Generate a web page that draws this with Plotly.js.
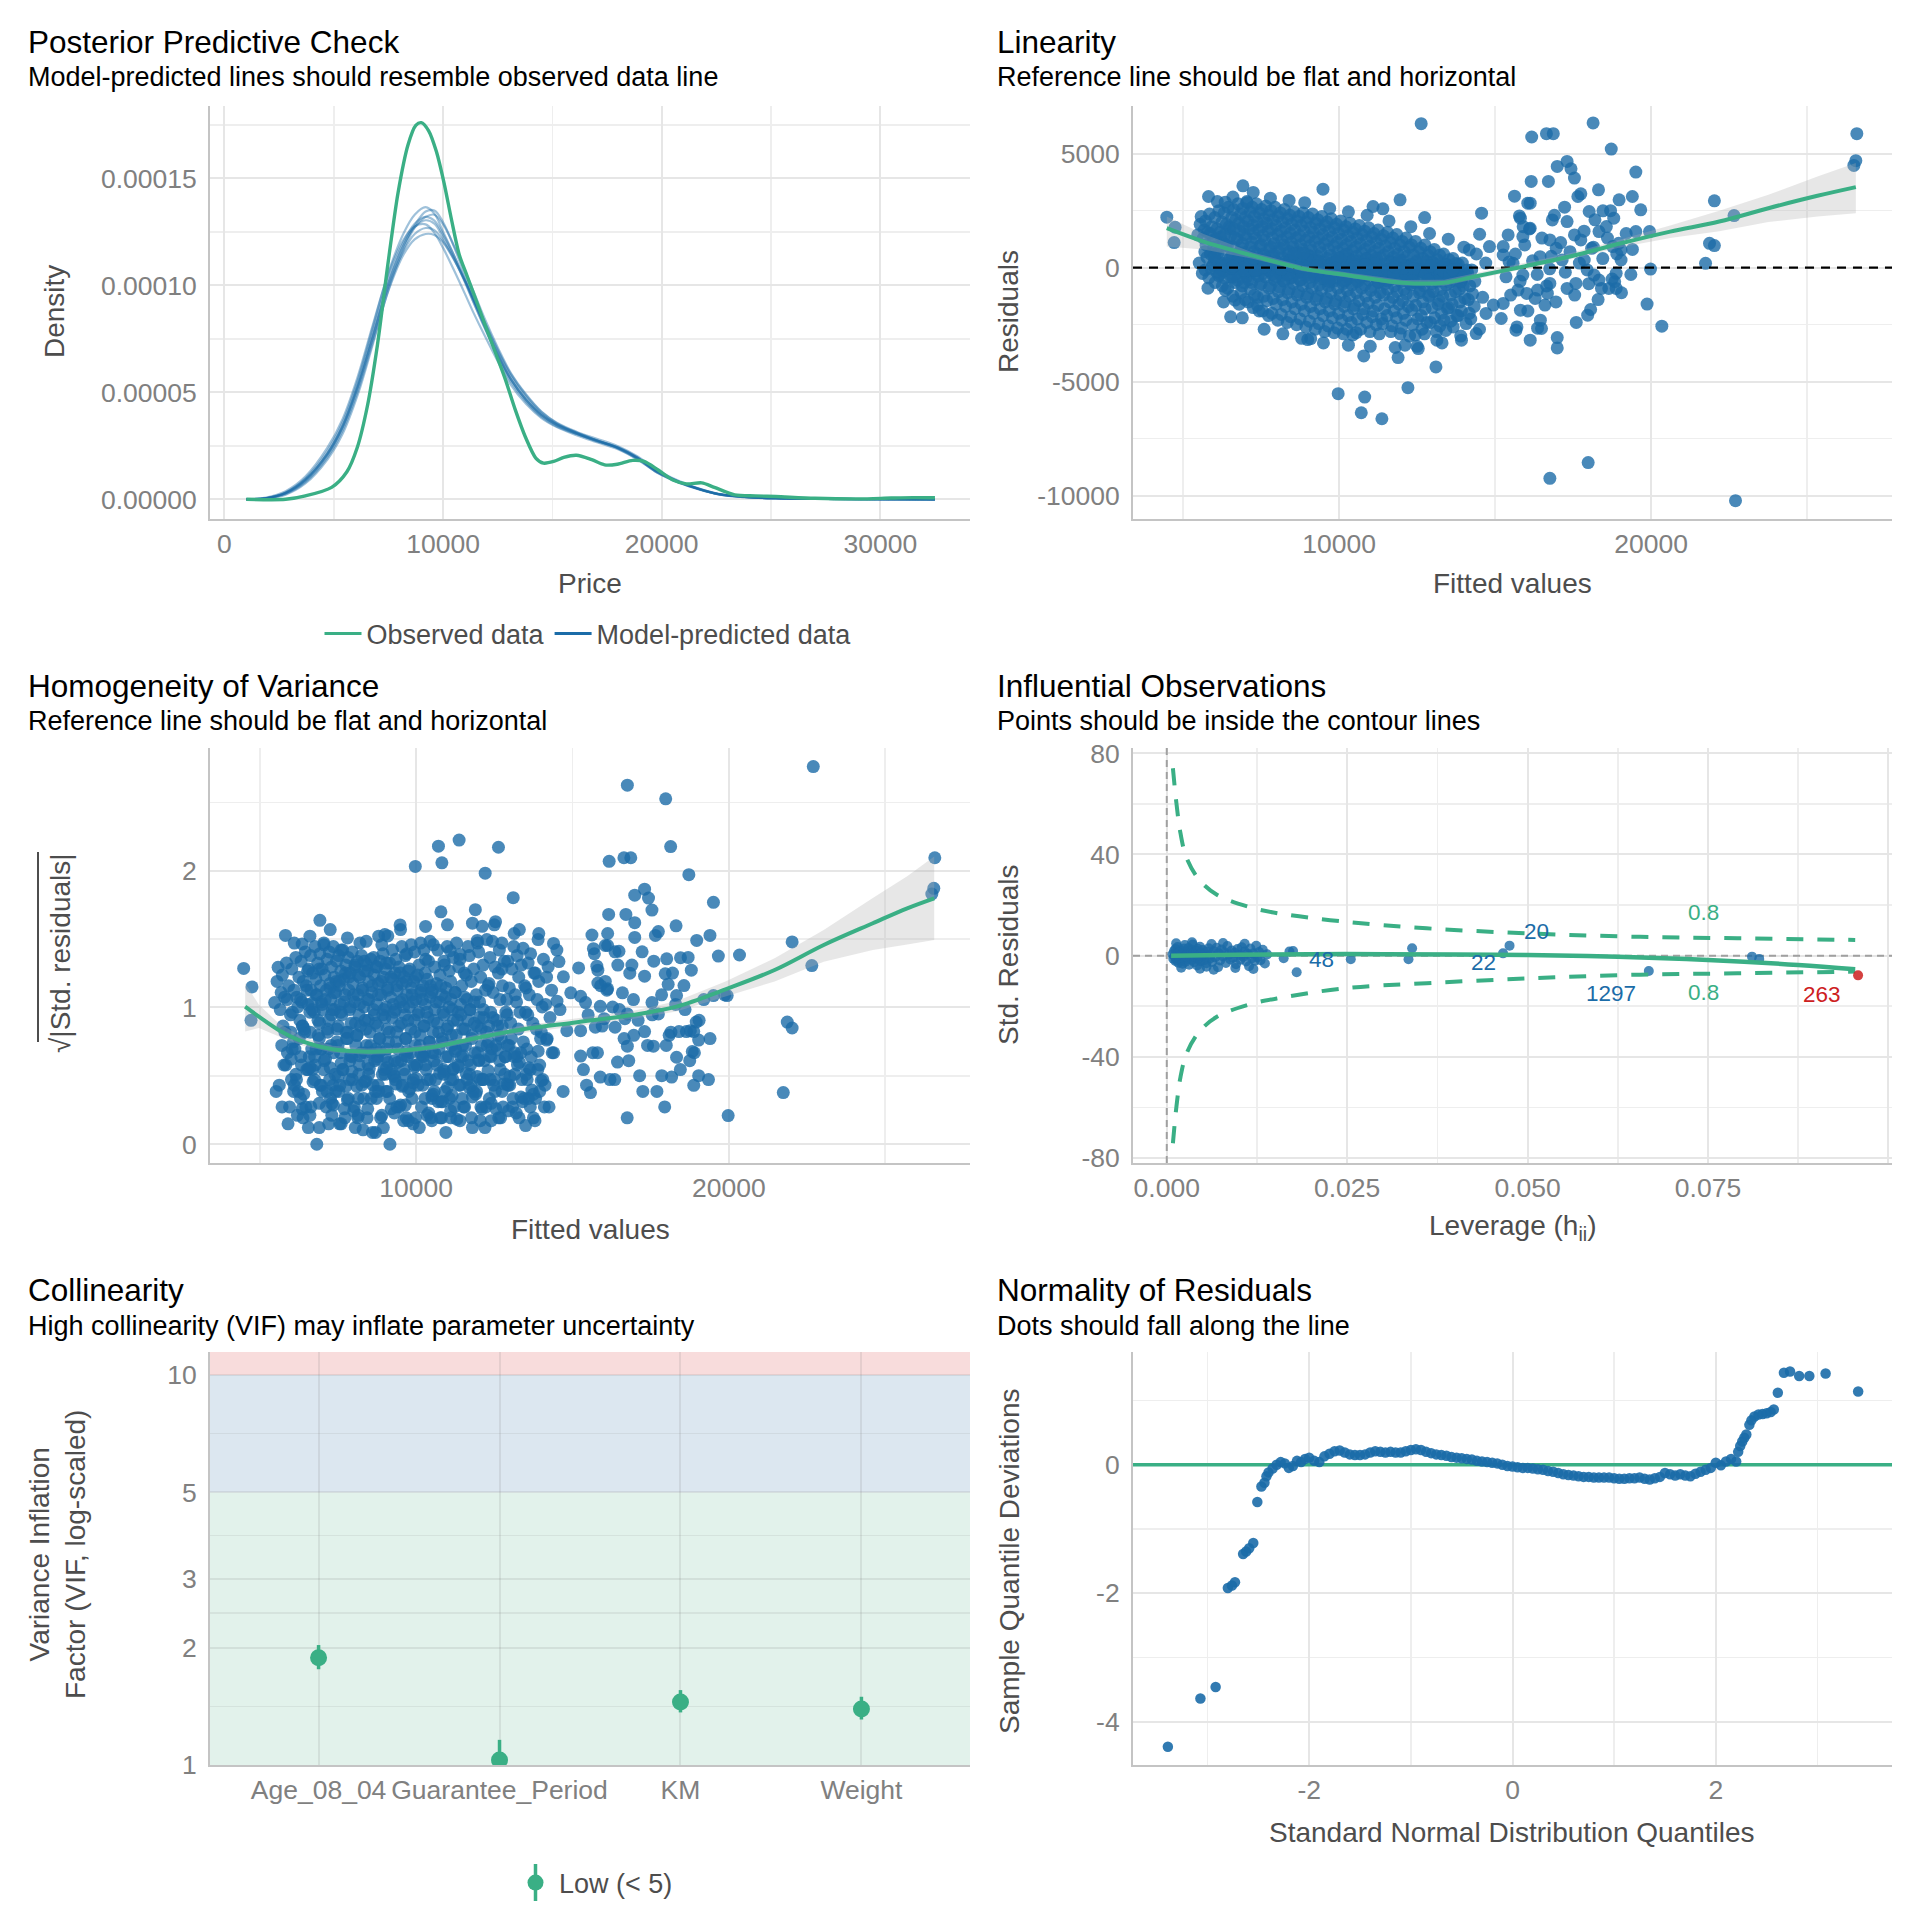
<!DOCTYPE html>
<html><head><meta charset="utf-8">
<script src="https://cdn.plot.ly/plotly-3.0.1.min.js"></script>
<style>html,body{margin:0;padding:0;background:#fff}#chart{width:1920px;height:1920px}</style>
</head><body><div id="chart"></div>
<script>
// ================= DATA =================
// --- Posterior predictive check (density values in units of 1e-5) ---
const ppcPriceTicks = [0, 10000, 20000, 30000];
const ppcDensityTicks = [0, 0.00005, 0.0001, 0.00015];
const ppcDensityLabels = ['0.00000', '0.00005', '0.00010', '0.00015'];
const observedPrice = [1000,2800,3700,4900,5600,6070,6535,7000,7470,7940,8400,8750,9000,9340,9690,10040,10390,10740,11090,11440,11900,12370,12840,13300,13770,14240,14590,15060,15520,16100,16800,17390,17970,18670,19190,19840,20540,21130,21830,22410,23340,24280,25210,27000,29000,30500,31500,32500];
const observedDensity = [0,0,0.16,0.56,1.29,2.41,4.35,7.24,10.95,14.33,16.58,17.47,17.6,17.22,16.26,14.8,13.04,11.43,10.46,9.5,8.21,6.92,5.63,4.19,2.9,1.93,1.69,1.77,1.96,2.06,1.85,1.61,1.64,1.82,1.77,1.37,0.89,0.72,0.77,0.56,0.21,0.16,0.13,0.05,0.02,0.06,0.08,0.07];
const predictedPrice = [1000,1900,2800,3700,4700,5400,6100,6800,7500,8200,8700,9200,9600,10000,10500,11000,11400,11900,12500,13100,13800,14500,15200,16100,17000,18000,18900,19800,20800,21700,22600,23800,25200,27000,29000,32500];
const predictedDraw1 = [0,0.05,0.29,0.89,2.09,3.38,5.31,7.73,10.14,11.91,12.72,13.04,12.88,12.23,11.27,10.14,9.18,8.05,6.76,5.63,4.67,3.94,3.46,3.06,2.74,2.41,1.93,1.29,0.80,0.48,0.24,0.11,0.05,0.02,0.01,0];
const predictedDraw2 = [0,0.06,0.33,0.98,2.25,3.60,5.60,8.10,10.60,12.45,13.30,13.65,13.35,12.50,11.40,10.20,9.20,8.00,6.65,5.50,4.55,3.85,3.40,3.05,2.76,2.43,1.96,1.32,0.82,0.48,0.23,0.10,0.04,0.02,0.01,0];
const predictedDraw3 = [0,0.04,0.25,0.80,1.95,3.20,5.05,7.40,9.75,11.45,12.15,12.40,12.35,12.00,11.20,10.20,9.35,8.30,7.00,5.85,4.85,4.08,3.56,3.12,2.78,2.38,1.88,1.25,0.80,0.50,0.26,0.12,0.05,0.02,0.01,0];
const predictedDraw4 = [0,0.03,0.22,0.74,1.85,3.05,4.90,7.30,9.80,11.70,12.70,13.20,13.30,12.85,11.85,10.70,9.70,8.45,7.10,5.90,4.90,4.10,3.58,3.16,2.84,2.48,2.00,1.36,0.85,0.50,0.25,0.11,0.05,0.02,0.01,0];
const predictedDraw5 = [0,0.08,0.38,1.06,2.40,3.75,5.75,8.20,10.55,12.15,12.75,12.85,12.45,11.75,10.70,9.60,8.70,7.65,6.45,5.35,4.45,3.80,3.38,3.00,2.68,2.34,1.86,1.24,0.77,0.46,0.23,0.10,0.05,0.02,0.01,0];
const predictedDraw6 = [0,0.05,0.30,0.92,2.14,3.46,5.42,7.88,10.30,12.05,12.88,13.20,13.02,12.38,11.40,10.28,9.32,8.15,6.82,5.62,4.62,3.92,3.50,3.12,2.76,2.40,1.90,1.26,0.78,0.47,0.24,0.11,0.05,0.02,0.01,0];
const predictedDraw7 = [0,0.05,0.31,0.93,2.12,3.40,5.28,7.60,9.95,11.62,12.40,12.68,12.58,12.08,11.22,10.22,9.30,8.20,6.92,5.76,4.76,4.00,3.52,3.10,2.76,2.42,1.94,1.31,0.82,0.49,0.25,0.11,0.05,0.02,0.01,0];
const predictedDraw8 = [0,0.05,0.28,0.86,2.04,3.32,5.22,7.62,10.05,11.85,12.80,13.45,13.50,12.95,11.80,10.45,9.35,8.10,6.72,5.58,4.64,3.96,3.48,3.08,2.72,2.39,1.92,1.30,0.81,0.48,0.24,0.11,0.05,0.02,0.01,0];

// --- Linearity: [fitted value, residual] ---
const fittedTicks = [10000, 20000];
const residualTicks = [-10000, -5000, 0, 5000];
const residualSD = 1340;   // residual standard deviation used for standardising
const linearityCoreA = [
[5550,1900],[5650,1300],[5700,700],[5520,200],[5620,-250],[5680,1650],
[5850,2350],[5920,1800],[5980,1200],[5880,600],[5950,100],[5830,-450],[5990,900],[5870,1500],
[6150,2500],[6250,2000],[6180,1550],[6280,1100],[6120,650],[6230,200],[6170,-300],[6260,-800],[6210,1350],
[6450,2650],[6560,2200],[6480,1800],[6530,1400],[6420,950],[6580,550],[6470,100],[6540,-400],[6430,-900],[6500,1700],
[6760,2800],[6850,2350],[6790,1950],[6830,1600],[6740,1250],[6870,850],[6770,450],[6820,0],[6750,-550],[6860,-1100],[6800,-1600],
[7050,2850],[7150,2450],[7080,2050],[7130,1700],[7020,1300],[7170,900],[7060,500],[7120,100],[7040,-400],[7160,-950],[7090,-1500],
[7350,2800],[7450,2400],[7380,2000],[7430,1650],[7320,1300],[7470,950],[7360,600],[7420,200],[7340,-250],[7460,-750],[7390,-1300],[7440,-1900],
[7650,2700],[7750,2300],[7680,1950],[7730,1600],[7620,1200],[7770,800],[7660,400],[7720,50],[7640,-400],[7760,-900],[7690,-1450],[7740,-2100],
[7950,2650],[8050,2250],[7980,1850],[8030,1450],[7920,1050],[8070,700],[7960,300],[8020,-100],[7940,-550],[8060,-1050],[7990,-1600],[8040,-2300],
[8250,2550],[8350,2150],[8280,1750],[8330,1350],[8220,1000],[8370,600],[8260,250],[8320,-150],[8240,-600],[8360,-1100],[8290,-1700],[8340,-2400],
[8550,2450],[8650,2050],[8580,1650],[8630,1300],[8520,900],[8670,500],[8560,150],[8620,-250],[8540,-700],[8660,-1200],[8590,-1800],[8640,-2500],
[8850,2400],[8950,2000],[8880,1600],[8930,1200],[8820,800],[8970,400],[8860,50],[8920,-350],[8840,-800],[8960,-1300],[8890,-1900],[8940,-2600],
[9150,2350],[9250,1950],[9180,1550],[9230,1150],[9120,750],[9270,350],[9160,0],[9220,-400],[9140,-900],[9260,-1400],[9190,-2000],[9240,-2700],
[9450,2250],[9550,1850],[9480,1450],[9530,1050],[9420,650],[9570,250],[9460,-100],[9520,-500],[9440,-1000],[9560,-1500],[9490,-2100],[9540,-2800],
[9750,2150],[9850,1750],[9780,1350],[9830,950],[9720,550],[9870,150],[9760,-200],[9820,-600],[9740,-1100],[9860,-1600],[9790,-2200],[9840,-2850],
[10050,2050],[10150,1650],[10080,1250],[10130,850],[10020,450],[10170,100],[10060,-250],[10120,-700],[10040,-1200],[10160,-1700],[10090,-2300],[10140,-2900],
[10350,1950],[10450,1550],[10380,1150],[10430,750],[10320,400],[10470,50],[10360,-300],[10420,-750],[10340,-1250],[10460,-1800],[10390,-2400],[10440,-2950],
[10650,1850],[10750,1450],[10680,1050],[10730,650],[10620,300],[10770,-50],[10660,-450],[10720,-900],[10640,-1450],[10760,-2050],[10690,-2700],
[10950,1750],[11050,1350],[10980,950],[11030,550],[10920,200],[11070,-150],[10960,-550],[11020,-1000],[10940,-1550],[11060,-2150],[10990,-2800],
[11250,1650],[11350,1250],[11280,850],[11330,450],[11220,100],[11370,-250],[11260,-650],[11320,-1100],[11240,-1650],[11360,-2250],[11290,-2900],
[11550,1550],[11650,1100],[11580,700],[11630,300],[11520,-100],[11670,-500],[11560,-950],[11620,-1500],[11540,-2100],[11660,-2800],
[11850,1450],[11950,1000],[11880,600],[11930,200],[11820,-200],[11970,-600],[11860,-1050],[11920,-1600],[11840,-2200],[11960,-2900],
[12150,1300],[12250,900],[12180,500],[12230,100],[12120,-300],[12270,-700],[12160,-1150],[12220,-1700],[12140,-2300],[12260,-3000],
[12450,1150],[12550,700],[12480,250],[12530,-200],[12420,-650],[12570,-1100],[12460,-1650],[12520,-2250],[12440,-2950],
[12750,1000],[12850,550],[12780,100],[12830,-350],[12720,-800],[12870,-1250],[12760,-1800],[12820,-2400],[12740,-2900],
[13050,800],[13150,350],[13080,-100],[13130,-550],[13020,-1050],[13170,-1600],[13060,-2200],[13120,-2800],
[13350,600],[13450,150],[13380,-300],[13430,-750],[13320,-1250],[13470,-1800],[13360,-2300],[13420,-2750],
[13650,400],[13750,-50],[13680,-550],[13730,-1050],[13620,-1600],[13770,-2100],[13660,-2600],
[13950,200],[14050,-300],[13980,-800],[14030,-1350],[13920,-1900],[14070,-2450],
[14250,-100],[14350,-600],[14280,-1150],[14330,-1700],[14220,-2250]
];
const linearityCoreB = [
[5720,2050],[5790,1550],[5740,1000],[5770,450],[5710,-100],
[6020,2200],[6090,1700],[6040,1250],[6070,750],[6010,300],[6080,-200],[6030,-650],
[6320,2400],[6390,1900],[6340,1450],[6370,1000],[6310,550],[6380,50],[6330,-450],[6360,-1000],
[6620,2550],[6690,2100],[6640,1700],[6670,1300],[6610,900],[6680,400],[6630,-100],[6660,-650],[6600,-1250],
[6920,2600],[6990,2200],[6940,1800],[6970,1450],[6910,1050],[6980,650],[6930,250],[6960,-250],[6900,-800],[6990,-1400],
[7220,2650],[7290,2250],[7240,1850],[7270,1500],[7210,1100],[7280,700],[7230,300],[7260,-150],[7200,-650],[7290,-1200],[7250,-1750],
[7520,2550],[7590,2150],[7540,1800],[7570,1400],[7510,1000],[7580,600],[7530,200],[7560,-250],[7500,-700],[7590,-1250],[7550,-1900],
[7820,2500],[7890,2100],[7840,1700],[7870,1300],[7810,900],[7880,500],[7830,150],[7860,-300],[7800,-800],[7890,-1350],[7850,-2000],
[8120,2400],[8190,2000],[8140,1600],[8170,1200],[8110,850],[8180,450],[8130,50],[8160,-350],[8100,-850],[8190,-1400],[8150,-2050],
[8420,2300],[8490,1900],[8440,1500],[8470,1100],[8410,700],[8480,350],[8430,-50],[8460,-450],[8400,-950],[8490,-1500],[8450,-2150],
[8720,2250],[8790,1850],[8740,1400],[8770,1000],[8710,650],[8780,250],[8730,-150],[8760,-550],[8700,-1050],[8790,-1600],[8750,-2250],
[9020,2200],[9090,1750],[9040,1350],[9070,950],[9010,550],[9080,200],[9030,-200],[9060,-650],[9000,-1150],[9090,-1700],[9050,-2350],
[9320,2100],[9390,1700],[9340,1300],[9370,900],[9310,500],[9380,100],[9330,-300],[9360,-750],[9300,-1250],[9390,-1800],[9350,-2450],
[9620,2000],[9690,1600],[9640,1200],[9670,800],[9610,400],[9680,50],[9630,-350],[9660,-800],[9600,-1350],[9690,-1900],[9650,-2550],
[9920,1900],[9990,1500],[9940,1100],[9970,700],[9910,300],[9980,-50],[9930,-450],[9960,-900],[9900,-1450],[9990,-2000],[9950,-2650],
[10220,1800],[10290,1400],[10240,1000],[10270,600],[10210,250],[10280,-150],[10230,-550],[10260,-1000],[10200,-1500],[10290,-2100],[10250,-2700],
[10520,1700],[10590,1300],[10540,900],[10570,500],[10510,150],[10580,-200],[10530,-600],[10560,-1100],[10500,-1650],[10590,-2250],[10550,-2850],
[10820,1600],[10890,1200],[10840,800],[10870,400],[10810,50],[10880,-350],[10830,-750],[10860,-1250],[10800,-1800],[10890,-2400],
[11120,1500],[11190,1100],[11140,700],[11170,300],[11110,-50],[11180,-400],[11130,-850],[11160,-1300],[11100,-1900],[11190,-2500],
[11420,1400],[11490,950],[11440,550],[11470,150],[11410,-250],[11480,-700],[11430,-1200],[11460,-1800],[11400,-2450],
[11720,1300],[11790,850],[11740,450],[11770,50],[11710,-350],[11780,-800],[11730,-1300],[11760,-1900],[11700,-2550],
[12020,1150],[12090,700],[12040,300],[12070,-100],[12010,-500],[12080,-950],[12030,-1450],[12060,-2000],[12000,-2650],
[12320,1000],[12390,550],[12340,150],[12370,-300],[12310,-750],[12380,-1250],[12330,-1850],[12360,-2500],
[12620,850],[12690,400],[12640,-50],[12670,-500],[12610,-1000],[12680,-1500],[12630,-2100],[12660,-2700],
[12920,700],[12990,250],[12940,-250],[12970,-700],[12910,-1200],[12980,-1750],[12930,-2400],
[13220,550],[13290,50],[13240,-450],[13270,-950],[13210,-1450],[13280,-2000],[13230,-2550],
[13520,350],[13590,-150],[13540,-650],[13570,-1200],[13510,-1750],[13580,-2350],
[13820,150],[13890,-400],[13840,-950],[13870,-1500],[13810,-2100],
[14120,-250],[14190,-800],[14140,-1400],[14170,-2000]
];
const linearityCoreC = [
[5900,-30],[6100,250],[6300,-150],[6500,400],[6700,-280],[6900,120],[7100,-520],[7300,60],[7500,330],[7700,-90],
[7900,560],[8100,-240],[8300,15],[8500,-410],[8700,200],[8900,-60],[9100,480],[9300,-330],[9500,110],[9700,-620],
[9900,270],[10100,-20],[10300,-450],[10500,170],[10700,-130],[10900,380],[11100,-300],[11300,45],[11500,-560],[11700,230],
[11900,-180],[12100,90],[12300,-390],[12500,300],[12700,-50],[12900,-260],[13100,150],[13300,-480],[13500,25],[13700,-210],
[13900,-620],[14100,-100],
[6000,520],[6200,-60],[6400,180],[6600,-420],[6800,650],[7000,-200],[7200,30],[7400,-350],[7600,470],[7800,-140],
[8000,80],[8200,-560],[8400,290],[8600,-10],[8800,-200],[9000,350],[9200,-90],[9400,-480],[9600,40],[9800,220],
[10000,-310],[10200,560],[10400,-70],[10600,-590],[10800,130],[11000,-230],[11200,410],[11400,-40],[11600,-360],[11800,160],
[12000,-510],[12200,20],[12400,-120],[12600,-640],[12800,260],[13000,-330],[13200,-70],[13400,130],[13600,-420],[13800,-40],
[14000,-290],
[6150,-350],[6350,90],[6550,-20],[6750,300],[6950,-650],[7150,200],[7350,-110],[7550,-30],[7750,240],[7950,-380],
[8150,150],[8350,-280],[8550,600],[8750,-520],[8950,20],[9150,-150],[9350,260],[9550,-240],[9750,-40],[9950,430],
[10150,-580],[10350,60],[10550,-180],[10750,-360],[10950,-10],[11150,170],[11350,-430],[11550,-100],[11750,-250],[11950,330],
[12150,-300],[12350,-560],[12550,-90],[12750,-200],[12950,80],[13150,-600],[13350,-160],[13550,-300],[13750,180],[13950,-450],
[7250,420],[8050,-20],[8850,620],[9650,-560],[10450,300],[11250,-620],[12050,-40],[12850,-550],[13650,-100],[9050,-420]
];
const linearityEdge = [
[6100,2900],[6600,3100],[7250,3300],[7800,3050],[8400,2950],[8900,2850],[9700,2600],[10300,2450],[10900,2300],[11600,2050],
[12300,1800],[12900,1500],[13500,1250],[14000,900],[14400,600],
[5800,-900],[6300,-1500],[6900,-2200],[7600,-2700],[8200,-2900],[8800,-3100],[9500,-3300],[10300,-3400],[11000,-3450],[11800,-3500],
[12500,-3450],[13300,-3300],[13900,-3000],[14500,-2700],[14600,-1300],[14700,200]
];
const linearityNearZero = [[6900,-20],[7600,30],[8150,-60],[8700,10],[9300,70],[9900,-30],[10500,40],[11100,-80],[11800,20],[12400,-40],[7300,-120],[8450,90],[9650,-110],[10850,130],[6600,60]];
const linearityOutliers = [
[12632,6318],[16173,5732],[16645,5879],[16865,5879],[18140,6348],[18722,5204],[26590,5879],[26558,4691],[26495,4486],[22026,2932],
[22656,2287],[21870,1070],[22026,968],[21743,191],[19980,-59],[19870,-1598],[20342,-2566],[22703,-10218],[16755,-9236],[17982,-8547],
[9972,-5527],[10822,-5673],[10712,-6362],[11373,-6626],[12207,-5263],[13104,-4354],[10791,-3870],[11892,-3943],[12113,-3401],[12538,-3548],
[16991,-3518],[16991,-3064],[16125,-3181],[16361,-2653],[15669,-2741],[14394,-2888],[13922,-3181],[13135,-3181],[17966,-2082],[18061,-1833],
[8997,-3152],[9092,-3108],[6526,-2155],[7376,-1642],[6668,-1422],[6920,3592],[9485,3445],[11955,2976],[5818,3123],[6353,2873],
[7046,2903],[11090,2683],[11405,2580],[12742,2199],[14567,2390],[4481,2214],[4748,1774],[4717,1100],[5472,1437],[5582,2243],
[16991,4442],[17306,4662],[17432,4339],[17542,3929],[16157,3782],[16708,3782],[18313,3416],[19509,4193],[15622,3137],[16047,2829],
[16125,2829],[17652,3123],[17747,3240],[18973,2976],[19398,3123],[19666,2536],[18014,2463],[18455,2492],[17227,2653],[16833,2096],
[17306,2023],[15811,2170],[15779,2272],[16125,1730],[15418,1437],[15260,924],[14504,1466],[14819,924],[14174,777],[15889,1363],
[16755,1217],[16959,850],[17542,1437],[17747,1217],[18093,850],[18565,1803],[18801,2170],[18770,924],[18329,1583],[19036,777],
[18958,1070],[19948,1583],[19509,1583],[19036,337],[18879,-249],[18832,-616],[18879,-909],[18643,-909],[18329,-542],[18408,-909],
[18171,-323],[17589,-689],[17306,-909],[16755,-689],[16676,-1129],[16361,-982],[16015,-1129],[15732,-982],[16283,-1349],[16597,-1642],
[15889,-323],[15575,191],[15260,557],[16440,484],[17148,337],[17856,337],[15260,-1569],[15811,-1862],[14945,-1642],[15197,-2228],
[14709,-2008],[16487,-2668]
];
const linearityRightCluster = [
[15350,-400],[15500,-1200],[15650,600],[15800,-600],[15950,1000],[16050,-1900],[16200,300],[16350,-300],[16500,1300],[16650,-800],
[16800,500],[16950,-1500],[17100,1100],[17250,-200],[17400,700],[17550,-1200],[17700,200],[17850,1600],[18000,-700],[18150,900],
[18300,-1400],[18450,400],[18600,1300],[18750,-500],[18900,600],[19050,-1100],[19200,1500],[19350,-300],[15450,250],[16100,1700],
[16900,2300],[17600,-2400],[18200,2100],[15700,-2600],[19400,800],[16450,-2300],[17950,-100],[16750,-50],[15900,1800],[18700,2500]
];
// loess smooth + confidence band (Linearity)
const linSmoothX  = [4481,5661,7234,8808,10381,12034,13371,14316,15889,17463,19036,20610,22183,23757,25330,26558];
const linSmoothY  = [1730,1143,528,-29,-352,-660,-660,-396,44,513,1070,1583,2023,2609,3152,3533];
const linSmoothLo = [924,800,390,-150,-470,-780,-790,-530,-80,380,900,1300,1600,2000,2250,2390];
const linSmoothHi = [2243,1480,670,90,-230,-540,-530,-260,170,650,1250,1850,2500,3200,4000,4590];

// --- Homogeneity of variance smooth ---
const sqrtResidTicks = [0, 1, 2];
const homSmoothX  = [4529,4969,5597,6383,7325,8425,9525,10625,11881,13295,15024,16909,18323,19894,21465,23036,24607,25707,26571];
const homSmoothY  = [1.006,0.933,0.836,0.75,0.694,0.677,0.685,0.714,0.775,0.836,0.889,0.945,1.006,1.133,1.274,1.457,1.616,1.725,1.798];
const homSmoothLo = [0.824,0.85,0.79,0.72,0.67,0.655,0.663,0.692,0.752,0.81,0.86,0.915,0.97,1.08,1.19,1.335,1.42,1.46,1.494];
const homSmoothHi = [1.177,1.02,0.885,0.78,0.72,0.70,0.708,0.737,0.798,0.862,0.918,0.975,1.045,1.19,1.36,1.567,1.80,1.96,2.103];

// --- Influential observations: [leverage, std. residual] ---
const leverageTicks = [0, 0.025, 0.05, 0.075, 0.1];
const leverageLabels = ['0.000', '0.025', '0.050', '0.075', '0.100'];
const stdResidTicks = [-80, -40, 0, 40, 80];
const influenceCluster = [
[0.0008,0.5],[0.0009,-1.2],[0.0010,1.8],[0.0011,-0.4],[0.0012,2.6],[0.0012,-2.1],[0.0013,0.9],[0.0014,-1.6],[0.0015,3.4],[0.0015,0.1],
[0.0016,-2.8],[0.0017,1.4],[0.0018,-0.9],[0.0019,2.1],[0.0020,-1.9],[0.0021,0.4],[0.0022,-3.2],[0.0023,1.1],[0.0024,2.8],[0.0025,-0.6],
[0.0026,-2.4],[0.0027,1.7],[0.0028,0.2],[0.0029,-1.3],[0.0030,3.0],[0.0031,-3.6],[0.0032,0.8],[0.0033,-0.2],[0.0034,2.3],[0.0035,-1.7],
[0.0036,4.4],[0.0037,1.2],[0.0038,-2.6],[0.0039,0.5],[0.0040,-0.9],[0.0041,1.9],[0.0042,-3.9],[0.0043,2.7],[0.0044,-1.4],[0.0045,0.0],
[0.0046,3.5],[0.0047,-2.2],[0.0048,1.0],[0.0049,-0.5],[0.0050,2.2],[0.0052,-1.8],[0.0053,0.6],[0.0055,-3.0],[0.0056,1.5],[0.0058,2.9],
[0.0060,-1.1],[0.0061,0.3],[0.0063,-2.5],[0.0065,1.8],[0.0067,-0.7],[0.0069,3.1],[0.0071,-4.6],[0.0072,0.9],[0.0074,-1.9],[0.0076,2.4],
[0.0078,-0.3],[0.0080,1.3],[0.0082,-2.9],[0.0084,3.8],[0.0086,0.4],[0.0088,-1.5],[0.0090,2.0],[0.0092,-0.8],[0.0094,1.1],[0.0096,-3.4],
[0.0098,2.6],[0.0100,0.2],[0.0102,-1.6],[0.0104,3.3],[0.0106,-0.4],[0.0108,1.6],[0.0110,-2.3],[0.0112,0.7],[0.0114,-4.2],[0.0116,2.8],
[0.0118,-1.0],[0.0120,0.9],[0.0122,-2.0],[0.0124,3.9],[0.0126,-0.6],[0.0128,1.4],[0.0130,-1.8],[0.0133,2.3],[0.0136,-3.1],[0.0139,0.5],
[0.0013,4.9],[0.0020,-4.8],[0.0035,5.3],[0.0046,-5.2],[0.0062,4.6],[0.0065,-5.6],[0.0078,5.0],[0.0095,-4.9],[0.0108,4.7],[0.0120,-5.3],
[0.0025,4.2],[0.0055,-4.4]
];
const influenceOutliers = [[0.0162,-1.05],[0.0170,1.6],[0.0175,1.8],[0.0180,-6.6],[0.0255,-1.45],[0.0335,-1.45],[0.0340,2.9],[0.0466,0.9],[0.0475,3.95],[0.0668,-6.1],[0.0811,-0.4],[0.0821,-1.3]];
const influenceHigh = [[0.0958,-7.8]];
const cookLeverage = [0.00085,0.00134,0.0019,0.00276,0.00453,0.007,0.0112,0.0155,0.0247,0.036,0.0501,0.0643,0.0791,0.0954];
const cookUpper = [74.1,60.2,48.4,38.5,29.9,24.0,19.4,16.7,13.4,10.8,8.8,7.5,6.85,6.2];
const cookLower = [-74.2,-59.7,-48.0,-38.6,-30.0,-24.1,-19.5,-16.8,-12.9,-10.9,-9.0,-7.6,-7.0,-6.3];
const infSmoothX = [0.0006,0.01,0.025,0.04,0.05,0.0625,0.075,0.0875,0.0954];
const infSmoothY = [0,0.3,0.6,0.45,0.26,-0.4,-1.7,-3.7,-5.4];
const influenceLabels = [
  {text:'48', x:0.0215, y:-1.7, color:'#1b6ca8'},
  {text:'22', x:0.0439, y:-2.8, color:'#1b6ca8'},
  {text:'20', x:0.0513, y:9.6, color:'#1b6ca8'},
  {text:'1297', x:0.0616, y:-14.8, color:'#1b6ca8'},
  {text:'0.8', x:0.0744, y:17.2, color:'#3aaf85'},
  {text:'0.8', x:0.0744, y:-14.7, color:'#3aaf85'},
  {text:'263', x:0.0908, y:-15.2, color:'#cd201f'}
];

// --- Collinearity ---
const vifTerms = ['Age_08_04', 'Guarantee_Period', 'KM', 'Weight'];
const vifValue = [1.884, 1.03, 1.45, 1.392];
const vifLow   = [1.76, 1.0, 1.364, 1.308];
const vifHigh  = [2.03, 1.16, 1.556, 1.496];
const vifTicks = [1, 2, 3, 5, 10];
const vifZones = [
  {from:1, to:5, color:'#e2f2eb'},
  {from:5, to:10, color:'#dce7f0'},
  {from:10, to:11.46, color:'#f8dcdc'}
];

// --- Normality of residuals (QQ): [theoretical, sample deviation] ---
const qqXTicks = [-2, 0, 2];
const qqYTicks = [-4, -2, 0];
const qqLeftTail = [[-3.39,-4.39],[-3.07,-3.64],[-2.92,-3.46],[-2.80,-1.92],[-2.76,-1.88],[-2.73,-1.83],[-2.65,-1.39],[-2.62,-1.35],[-2.59,-1.30],[-2.55,-1.22],[-2.51,-0.58],[-2.47,-0.34],[-2.44,-0.28],[-2.42,-0.18]];
const qqBody = [
[-2.40,-0.12],[-2.36,-0.06],[-2.32,0.00],[-2.28,0.04],[-2.24,0.02],[-2.20,-0.05],[-2.16,-0.02],[-2.12,0.06],[-2.08,0.04],[-2.04,0.09],
[-2.00,0.11],[-1.95,0.06],[-1.90,0.04],[-1.85,0.13],[-1.80,0.17],[-1.75,0.21],[-1.70,0.22],[-1.65,0.19],[-1.60,0.16],[-1.55,0.15],
[-1.50,0.15],[-1.45,0.16],[-1.40,0.19],[-1.35,0.21],[-1.30,0.20],[-1.25,0.19],[-1.20,0.20],[-1.15,0.19],[-1.10,0.19],[-1.05,0.21],
[-1.00,0.23],[-0.95,0.24],[-0.90,0.23],[-0.85,0.20],[-0.80,0.18],[-0.75,0.16],[-0.70,0.15],[-0.65,0.14],[-0.60,0.12],[-0.55,0.11],
[-0.50,0.10],[-0.45,0.09],[-0.40,0.08],[-0.35,0.06],[-0.30,0.05],[-0.25,0.04],[-0.20,0.03],[-0.15,0.02],[-0.10,0.00],[-0.05,-0.02],
[0.00,-0.03],[0.05,-0.04],[0.10,-0.05],[0.15,-0.05],[0.20,-0.06],[0.25,-0.07],[0.30,-0.08],[0.35,-0.10],[0.40,-0.11],[0.45,-0.13],
[0.50,-0.15],[0.55,-0.16],[0.60,-0.17],[0.65,-0.18],[0.70,-0.19],[0.75,-0.19],[0.80,-0.20],[0.85,-0.20],[0.90,-0.20],[0.95,-0.20],
[1.00,-0.21],[1.05,-0.22],[1.10,-0.22],[1.15,-0.21],[1.20,-0.21],[1.25,-0.20],[1.30,-0.22],[1.35,-0.23],[1.40,-0.21],[1.45,-0.19],
[1.50,-0.13],[1.55,-0.15],[1.60,-0.17],[1.65,-0.15],[1.70,-0.17],[1.75,-0.18],[1.80,-0.14],[1.85,-0.11],[1.90,-0.08],[1.95,-0.05],
[2.00,0.03],[2.05,-0.01],[2.10,0.05],[2.15,0.09],[2.20,0.05]
];
const qqRightTail = [[2.22,0.20],[2.24,0.29],[2.26,0.36],[2.28,0.42],[2.30,0.47],[2.33,0.62],[2.35,0.69],[2.38,0.75],[2.42,0.78],[2.46,0.79],[2.50,0.80],[2.54,0.82],[2.57,0.86],[2.61,1.12],[2.67,1.43],[2.73,1.45],[2.82,1.38],[2.92,1.38],[3.08,1.42],[3.40,1.14]];

// ================= STYLE / LAYOUT =================
const FONT = 'Liberation Sans, Arial, Helvetica, sans-serif';
const BLUE = '#1b6ca8', GREEN = '#3aaf85', RED = '#cd201f';
const S = 1920;
const fx = p => p / S;
const fy = p => 1 - p / S;
const COL_L = [210, 970], COL_R = [1133, 1892];
const ROW1 = [106, 519], ROW2 = [748, 1163], ROW3 = [1352, 1765];
const RANGES = {
  x1:[-663, 34104], y1:[-0.0000092, 0.0001838],
  x2:[3398, 27717], y2:[-11022, 7091],
  x3:[3404, 27716], y3:[-0.137, 2.897],
  x4:[-0.00468, 0.1005], y4:[-82, 82.1],
  x5:[-0.6, 3.6], y5:[0, 1.0587],
  x6:[-3.733, 3.733], y6:[-4.674, 1.754]
};

function midpoints(v) {
  const step = v[1] - v[0];
  const out = [v[0] - step / 2];
  for (let i = 0; i < v.length - 1; i++) out.push((v[i] + v[i + 1]) / 2);
  out.push(v[v.length - 1] + step / 2);
  return out;
}
function axis(domPx, isY, anchor, range, tickvals, ticktext, minorvals, extra) {
  const a = {
    domain: isY ? [fy(domPx[1]), fy(domPx[0])] : [fx(domPx[0]), fx(domPx[1])],
    anchor: anchor, range: range, showline: true, linecolor: '#c4c4c4', linewidth: 2,
    showgrid: true, gridcolor: '#e6e6e6', gridwidth: 2, zeroline: false,
    ticks: 'outside', ticklen: isY ? 6 : 0, tickcolor: 'rgba(0,0,0,0)',
    tickfont: {family: FONT, size: 26.5, color: '#808080'}, fixedrange: true, tickangle: 0
  };
  if (tickvals) { a.tickmode = 'array'; a.tickvals = tickvals; a.ticktext = ticktext || tickvals.map(String); }
  if (minorvals) { a.minor = {tickmode: 'array', tickvals: minorvals, showgrid: true, gridcolor: '#eeeeee', gridwidth: 1.5, ticks: ''}; }
  return Object.assign(a, extra || {});
}

// ================= TRACES =================
const traces = [];
const e5 = v => v * 1e-5;
// Panel 1
[predictedDraw1, predictedDraw2, predictedDraw3, predictedDraw4, predictedDraw5, predictedDraw6, predictedDraw7, predictedDraw8].forEach(d => {
  traces.push({x: predictedPrice, y: d.map(e5), mode: 'lines', line: {color: 'rgba(27,108,168,0.42)', width: 2.2, shape: 'spline', smoothing: 1}, showlegend: false, hoverinfo: 'skip', xaxis: 'x', yaxis: 'y'});
});
traces.push({x: observedPrice, y: observedDensity.map(e5), mode: 'lines', line: {color: GREEN, width: 3.4, shape: 'spline', smoothing: 0.8}, showlegend: false, xaxis: 'x', yaxis: 'y'});
traces.push({x: [null], y: [null], mode: 'lines', line: {color: GREEN, width: 3}, name: 'Observed data', legend: 'legend', xaxis: 'x', yaxis: 'y'});
traces.push({x: [null], y: [null], mode: 'lines', line: {color: BLUE, width: 3}, name: 'Model-predicted data', legend: 'legend', xaxis: 'x', yaxis: 'y'});

// Panel 2 & 3 share the fitted/residual points
const residualPoints = [].concat(linearityCoreA, linearityCoreB, linearityCoreC, linearityEdge, linearityNearZero, linearityOutliers, linearityRightCluster);
const ptMarker = {color: BLUE, size: 13, opacity: 0.8, line: {width: 0}};
function ribbon(xs, lo, hi, xa, ya) {
  return {x: xs.concat(xs.slice().reverse()), y: hi.concat(lo.slice().reverse()), fill: 'toself', fillcolor: 'rgba(175,175,175,0.3)', line: {width: 0}, mode: 'lines', showlegend: false, hoverinfo: 'skip', xaxis: xa, yaxis: ya};
}
traces.push({x: residualPoints.map(p => p[0]), y: residualPoints.map(p => p[1]), mode: 'markers', marker: ptMarker, showlegend: false, xaxis: 'x2', yaxis: 'y2'});
traces.push({x: RANGES.x2, y: [0, 0], mode: 'lines', line: {color: '#000', width: 2.2, dash: '9px,7px'}, showlegend: false, hoverinfo: 'skip', xaxis: 'x2', yaxis: 'y2'});
traces.push(ribbon(linSmoothX, linSmoothLo, linSmoothHi, 'x2', 'y2'));
traces.push({x: linSmoothX, y: linSmoothY, mode: 'lines', line: {color: GREEN, width: 4, shape: 'spline'}, showlegend: false, xaxis: 'x2', yaxis: 'y2'});

traces.push({x: residualPoints.map(p => p[0]), y: residualPoints.map(p => Math.sqrt(Math.abs(p[1]) / residualSD)), mode: 'markers', marker: ptMarker, showlegend: false, xaxis: 'x3', yaxis: 'y3'});
traces.push(ribbon(homSmoothX, homSmoothLo, homSmoothHi, 'x3', 'y3'));
traces.push({x: homSmoothX, y: homSmoothY, mode: 'lines', line: {color: GREEN, width: 4, shape: 'spline'}, showlegend: false, xaxis: 'x3', yaxis: 'y3'});

// Panel 4
traces.push({x: RANGES.x4, y: [0, 0], mode: 'lines', line: {color: '#a0a0a0', width: 2, dash: '7px,5px'}, showlegend: false, hoverinfo: 'skip', xaxis: 'x4', yaxis: 'y4'});
traces.push({x: [0, 0], y: RANGES.y4, mode: 'lines', line: {color: '#a0a0a0', width: 2, dash: '7px,5px'}, showlegend: false, hoverinfo: 'skip', xaxis: 'x4', yaxis: 'y4'});
const infPts = influenceCluster.concat(influenceOutliers);
traces.push({x: infPts.map(p => p[0]), y: infPts.map(p => p[1]), mode: 'markers', marker: {color: BLUE, size: 10, opacity: 0.8}, showlegend: false, xaxis: 'x4', yaxis: 'y4'});
[cookUpper, cookLower].forEach(c => traces.push({x: cookLeverage, y: c, mode: 'lines', line: {color: GREEN, width: 4, dash: '17px,14px', shape: 'spline'}, showlegend: false, xaxis: 'x4', yaxis: 'y4'}));
traces.push({x: infSmoothX, y: infSmoothY, mode: 'lines', line: {color: GREEN, width: 4.5, shape: 'spline'}, showlegend: false, xaxis: 'x4', yaxis: 'y4'});
traces.push({x: influenceHigh.map(p => p[0]), y: influenceHigh.map(p => p[1]), mode: 'markers', marker: {color: RED, size: 10, opacity: 0.85}, showlegend: false, xaxis: 'x4', yaxis: 'y4'});

// Panel 5
traces.push({x: vifTerms, y: vifValue, mode: 'markers', marker: {color: GREEN, size: 17},
  error_y: {type: 'data', symmetric: false, array: vifHigh.map((h, i) => h - vifValue[i]), arrayminus: vifLow.map((l, i) => vifValue[i] - l), color: GREEN, thickness: 3.5, width: 0},
  name: 'Low (&lt; 5)', legend: 'legend2', showlegend: true, xaxis: 'x5', yaxis: 'y5'});

// Panel 6
traces.push({x: RANGES.x6, y: [0, 0], mode: 'lines', line: {color: GREEN, width: 3.5}, showlegend: false, hoverinfo: 'skip', xaxis: 'x6', yaxis: 'y6'});
const qqPts = qqLeftTail.concat(qqBody, qqRightTail);
traces.push({x: qqPts.map(p => p[0]), y: qqPts.map(p => p[1]), mode: 'markers', marker: {color: BLUE, size: 10.5, opacity: 0.9}, showlegend: false, xaxis: 'x6', yaxis: 'y6'});

// ================= ANNOTATIONS =================
const ann = [];
function note(text, xPx, yPx, size, color, o) {
  ann.push(Object.assign({text: text, xref: 'paper', yref: 'paper', x: fx(xPx), y: fy(yPx), showarrow: false, font: {family: FONT, size: size, color: color}, xanchor: 'center', yanchor: 'middle'}, o || {}));
}
const L = {xanchor: 'left'};
note('Posterior Predictive Check', 26, 42, 31.5, '#000', L);
note('Model-predicted lines should resemble observed data line', 26, 77, 27, '#000', L);
note('Linearity', 995, 42, 31.5, '#000', L);
note('Reference line should be flat and horizontal', 995, 77, 27, '#000', L);
note('Homogeneity of Variance', 26, 686, 31.5, '#000', L);
note('Reference line should be flat and horizontal', 26, 721, 27, '#000', L);
note('Influential Observations', 995, 686, 31.5, '#000', L);
note('Points should be inside the contour lines', 995, 721, 27, '#000', L);
note('Collinearity', 26, 1290, 31.5, '#000', L);
note('High collinearity (VIF) may inflate parameter uncertainty', 26, 1326, 27, '#000', L);
note('Normality of Residuals', 995, 1290, 31.5, '#000', L);
note('Dots should fall along the line', 995, 1326, 27, '#000', L);

const AT = '#4d4d4d';
note('Density', 55, 312, 28, AT, {textangle: -90});
note('Price', 590, 583, 28, AT);
note('Residuals', 1009, 312, 28, AT, {textangle: -90});
note('Fitted values', 1512, 583, 28, AT);
note('√|Std. residuals|', 60, 953, 28, AT, {textangle: -90});
note('Fitted values', 590, 1229, 28, AT);
note('Std. Residuals', 1009, 955, 28, AT, {textangle: -90});
note('Leverage (h<sub>ii</sub>)', 1512, 1227, 28, AT);
note('Variance Inflation<br>Factor (VIF, log-scaled)', 57, 1555, 28, AT, {textangle: -90});
note('Sample Quantile Deviations', 1009, 1561, 28, AT, {textangle: -90});
note('Standard Normal Distribution Quantiles', 1512, 1832, 28, AT);

influenceLabels.forEach(l => ann.push({text: l.text, xref: 'x4', yref: 'y4', x: l.x, y: l.y, showarrow: false, font: {family: FONT, size: 22.5, color: l.color}, xanchor: 'center', yanchor: 'middle'}));

// ================= SHAPES =================
const shapes = [];
const ySpan = RANGES.y5[1] - RANGES.y5[0];
vifZones.forEach(z => shapes.push({type: 'rect', xref: 'x5 domain', yref: 'y5 domain', x0: 0, x1: 1,
  y0: (Math.log10(z.from) - RANGES.y5[0]) / ySpan, y1: Math.min(1, (Math.log10(z.to) - RANGES.y5[0]) / ySpan),
  fillcolor: z.color, line: {width: 0}, layer: 'below'}));
// overbar of the square-root sign in the Homogeneity y title
shapes.push({type: 'line', xref: 'paper', yref: 'paper', x0: fx(38), x1: fx(38), y0: fy(852), y1: fy(1042), line: {color: AT, width: 2}});
// vertical error-bar stroke of the Collinearity legend key (centred on the legend marker)
shapes.push({type: 'line', xref: 'paper', yref: 'paper', x0: fx(535.5), x1: fx(535.5), y0: fy(1864), y1: fy(1901), line: {color: GREEN, width: 3.5}});

const vifMinor = [];
for (let i = 0; i < vifTicks.length - 1; i++) vifMinor.push(Math.sqrt(vifTicks[i] * vifTicks[i + 1]));

const layout = {
  width: 1920, height: 1920, margin: {l: 0, r: 0, t: 0, b: 0}, paper_bgcolor: '#fff', plot_bgcolor: '#fff',
  font: {family: FONT, color: AT}, hovermode: false, showlegend: true,
  xaxis:  axis(COL_L, false, 'y',  RANGES.x1, ppcPriceTicks, null, midpoints(ppcPriceTicks)),
  yaxis:  axis(ROW1,  true,  'x',  RANGES.y1, ppcDensityTicks, ppcDensityLabels, midpoints(ppcDensityTicks)),
  xaxis2: axis(COL_R, false, 'y2', RANGES.x2, fittedTicks, null, midpoints(fittedTicks)),
  yaxis2: axis(ROW1,  true,  'x2', RANGES.y2, residualTicks, null, midpoints(residualTicks)),
  xaxis3: axis(COL_L, false, 'y3', RANGES.x3, fittedTicks, null, midpoints(fittedTicks)),
  yaxis3: axis(ROW2,  true,  'x3', RANGES.y3, sqrtResidTicks, null, midpoints(sqrtResidTicks)),
  xaxis4: axis(COL_R, false, 'y4', RANGES.x4, leverageTicks, leverageLabels, midpoints(leverageTicks)),
  yaxis4: axis(ROW2,  true,  'x4', RANGES.y4, stdResidTicks, null, midpoints(stdResidTicks)),
  xaxis5: axis(COL_L, false, 'y5', RANGES.x5, null, null, null, {type: 'category', gridcolor: 'rgba(120,120,120,0.15)'}),
  yaxis5: axis(ROW3,  true,  'x5', RANGES.y5, vifTicks, null, null, {type: 'log', gridcolor: 'rgba(120,120,120,0.15)',
            minor: {tickmode: 'array', tickvals: vifMinor, showgrid: true, gridcolor: 'rgba(120,120,120,0.12)', gridwidth: 1.5, ticks: ''}}),
  xaxis6: axis(COL_R, false, 'y6', RANGES.x6, qqXTicks, null, midpoints(qqXTicks)),
  yaxis6: axis(ROW3,  true,  'x6', RANGES.y6, qqYTicks, null, midpoints(qqYTicks)),
  legend:  {orientation: 'h', x: fx(588), xanchor: 'center', y: fy(634), yanchor: 'middle', font: {family: FONT, size: 27, color: AT}, bgcolor: 'rgba(0,0,0,0)', itemwidth: 37},
  legend2: {orientation: 'h', x: fx(595), xanchor: 'center', y: fy(1883), yanchor: 'middle', font: {family: FONT, size: 27, color: AT}, bgcolor: 'rgba(0,0,0,0)', itemwidth: 37},
  annotations: ann, shapes: shapes
};
Plotly.newPlot('chart', traces, layout, {staticPlot: true, displayModeBar: false});
</script></body></html>
